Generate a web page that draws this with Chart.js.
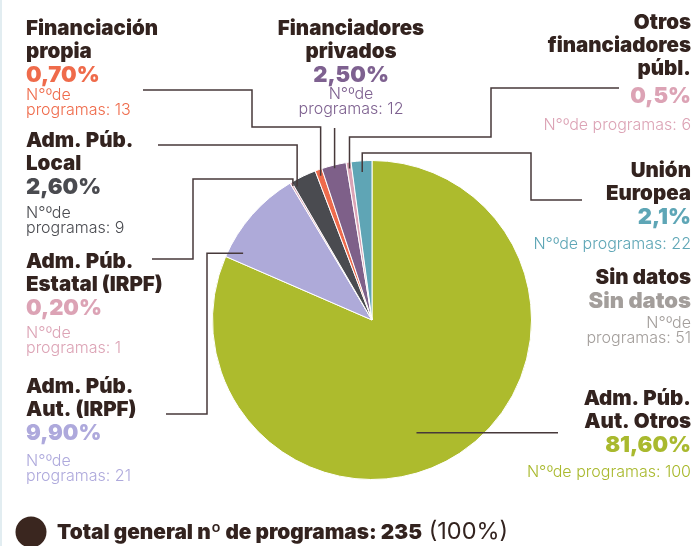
<!DOCTYPE html>
<html lang="es">
<head>
<meta charset="utf-8">
<script src="https://cdn.jsdelivr.net/npm/chart.js@4.4.1/dist/chart.umd.min.js"></script>
<style>
  html, body { margin: 0; padding: 0; background: #fff; }
  body { width: 692px; height: 546px; overflow: hidden; position: relative; }
  #wrap { position: absolute; left: 0; top: 0; width: 692px; height: 546px; }
  .edge { position: absolute; left: 0; top: 0; width: 2px; height: 546px; background: #e2edf1; }
</style>
</head>
<body>
<div id="wrap"><canvas id="fuentesChart" width="692" height="546"></canvas></div>
<div class="edge"></div>
<script>
// Fuentes de financiación de los programas (% y nº de programas)
const categories = [
  'Adm. Púb. Aut. Otros', 'Adm. Púb. Aut. (IRPF)', 'Adm. Púb. Estatal (IRPF)', 'Adm. Púb. Local',
  'Financiación propia', 'Financiadores privados', 'Otros financiadores públ.', 'Unión Europea', 'Sin datos'
];
const titleLines = [
  ['Adm. Púb.', 'Aut. Otros'], ['Adm. Púb.', 'Aut. (IRPF)'], ['Adm. Púb.', 'Estatal (IRPF)'], ['Adm. Púb.', 'Local'],
  ['Financiación', 'propia'], ['Financiadores', 'privados'], ['Otros', 'financiadores', 'públ.'], ['Unión', 'Europea'], ['Sin datos']
];
const percentages = [81.6, 9.9, 0.2, 2.6, 0.7, 2.5, 0.5, 2.1, 0];
const percentDecimals = [2, 2, 2, 2, 2, 2, 1, 1, null];
const programCounts = [100, 21, 1, 9, 13, 12, 6, 22, 51];
const totalProgramas = 235;

const sliceColors = ['#adbb2d', '#aeaad9', '#dba4b6', '#4a4b50', '#ee6b4c', '#7e6089', '#dba4b6', '#5fa5b5', '#a39e9b'];
const textColors = ['#a9b92e', '#aea9dc', '#dca3b5', '#4a4b50', '#ef6b4b', '#7e6190', '#dca3b5', '#5ea6b6', '#a39e9b'];
const ink = '#33231f';

const pctText = (i) => percentDecimals[i] === null
  ? 'Sin datos'
  : percentages[i].toFixed(percentDecimals[i]).replace('.', ',') + '%';

// label blocks: anchor x, first baseline, alignment, sub text split in two lines
const blocks = [
  { x: 691, y: 405, align: 'right', split: false, subGap: 25 },
  { x: 26, y: 393, align: 'left', split: true, subGap: 26 },
  { x: 26, y: 268, align: 'left', split: true, subGap: 23 },
  { x: 26, y: 147, align: 'left', split: true, subGap: 24 },
  { x: 26, y: 35, align: 'left', split: true, subGap: 18 },
  { x: 351, y: 35, align: 'center', split: true, subGap: 17 },
  { x: 691, y: 29, align: 'right', split: false, subGap: 27, pctGap: 28 },
  { x: 691, y: 177, align: 'right', split: false, subGap: 25 },
  { x: 691, y: 284, align: 'right', split: true, subGap: 20 }
];

// leader lines: fixed bends, then a vertical ('v') or horizontal ('h') run into the slice
const leaders = [
  { i: 0, t: 0.54, r: 0.76, mode: 'h', pts: [[558, 0]] },
  { i: 1, t: 0.11, r: 0.91, mode: 'h', pts: [[166, 414], [207, 414], [207, 0]] },
  { i: 2, t: 0.5, r: 0.975, mode: 'v', pts: [[152, 259], [193, 259], [193, 179]] },
  { i: 3, t: 0.1, r: 0.96, mode: 'v', pts: [[158, 145]] },
  { i: 4, t: 0.5, r: 0.96, mode: 'v', pts: [[143, 90], [252, 90], [252, 127]] },
  { i: 5, t: 0.5, r: 0.98, mode: 'v', pts: [[0, 128]] },
  { i: 6, t: 0.5, r: 0.96, mode: 'v', pts: [[619, 88], [491, 88], [491, 137]] },
  { i: 7, t: 0.5, r: 0.93, mode: 'v', pts: [[582, 200], [531, 200], [531, 153]] }
];

const FONT = 'Inter, "Noto Sans", sans-serif';

const calloutPlugin = {
  id: 'callouts',
  afterDatasetsDraw(chart) {
    const ctx = chart.ctx;
    const meta = chart.getDatasetMeta(0);
    ctx.save();

    // leader lines
    ctx.strokeStyle = '#47393a';
    ctx.lineWidth = 1.5;
    leaders.forEach(l => {
      const arc = meta.data[l.i];
      const p = arc.getProps(['x', 'y', 'startAngle', 'endAngle', 'outerRadius'], true);
      const a = p.startAngle + (p.endAngle - p.startAngle) * l.t;
      const px = p.x + Math.cos(a) * p.outerRadius * l.r;
      const py = p.y + Math.sin(a) * p.outerRadius * l.r;
      const pts = l.pts.map(q => q.slice());
      const last = pts[pts.length - 1];
      if (l.mode === 'v') {
        if (pts.length === 1 && last[0] === 0) last[0] = px; else pts.push([px, last[1]]);
      } else {
        if (last[1] === 0) last[1] = py; else pts.push([last[0], py]);
      }
      pts.push([px, py]);
      ctx.beginPath();
      pts.forEach((q, k) => k ? ctx.lineTo(q[0], q[1]) : ctx.moveTo(q[0], q[1]));
      ctx.stroke();
    });

    // label blocks
    ctx.textBaseline = 'alphabetic';
    blocks.forEach((b, i) => {
      ctx.textAlign = b.align;
      let y = b.y;
      ctx.fillStyle = ink;
      ctx.font = `900 20.5px ${FONT}`;
      titleLines[i].forEach((line, k) => {
        if (k) y += 23;
        ctx.fillText(line, b.x, y);
      });
      y += b.pctGap || 24;
      ctx.fillStyle = textColors[i];
      ctx.font = `900 22px ${FONT}`;
      ctx.fillText(pctText(i), b.x, y);
      ctx.font = `300 16px ${FONT}`;
      y += b.subGap;
      if (b.split) {
        ctx.fillText('N°ºde', b.x, y);
        ctx.fillText('programas: ' + programCounts[i], b.x, y + 14.5);
      } else {
        ctx.fillText('N°ºde programas: ' + programCounts[i], b.x, y);
      }
    });

    // total
    ctx.fillStyle = '#3a261f';
    ctx.beginPath();
    ctx.arc(31, 532, 15.5, 0, Math.PI * 2);
    ctx.fill();
    ctx.textAlign = 'left';
    ctx.fillStyle = ink;
    ctx.font = `900 20.8px ${FONT}`;
    const boldPart = 'Total general nº de programas: ' + totalProgramas;
    ctx.fillText(boldPart, 57, 539);
    const w = ctx.measureText(boldPart).width;
    ctx.font = `400 23.5px ${FONT}`;
    ctx.fillText(' (100%)', 57 + w, 539);

    ctx.restore();
  }
};

const start = () => {
  new Chart(document.getElementById('fuentesChart'), {
    type: 'pie',
    data: {
      labels: categories,
      datasets: [{
        data: percentages,
        backgroundColor: sliceColors,
        borderColor: '#ffffff',
        borderWidth: 1
      }]
    },
    options: {
      responsive: false,
      animation: false,
      layout: { padding: { left: 212, right: 160, top: 160, bottom: 66 } },
      plugins: {
        legend: { display: false },
        tooltip: { enabled: false }
      }
    },
    plugins: [calloutPlugin]
  });
};

Promise.all([
  document.fonts.load(`900 20px Inter`),
  document.fonts.load(`300 16px Inter`),
  document.fonts.load(`400 22px Inter`)
]).then(start, start);
</script>
</body>
</html>
